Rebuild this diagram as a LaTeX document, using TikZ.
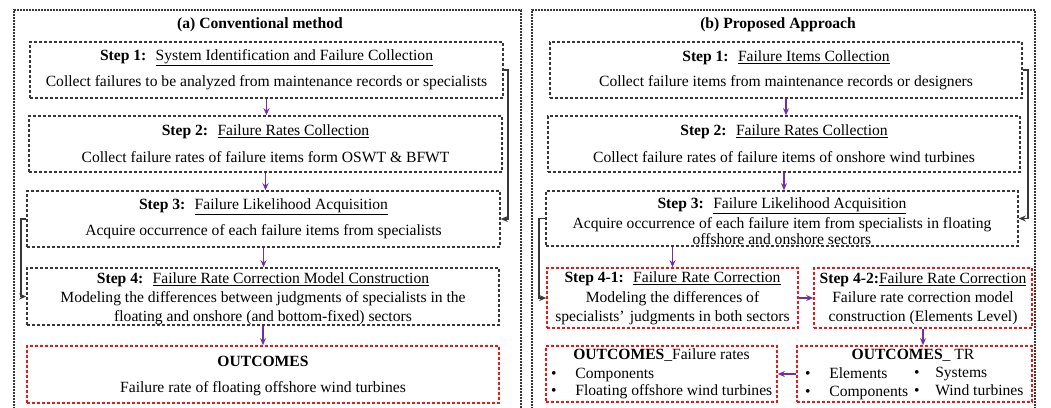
\documentclass[tikz,border=0pt]{standalone}
\usepackage{fontspec}
\setmainfont{Liberation Serif}
\usetikzlibrary{arrows.meta}
\definecolor{arrowpurple}{RGB}{112,48,160}
\definecolor{boxgray}{RGB}{55,55,55}
\definecolor{redbox}{RGB}{240,20,20}
\tikzset{
  outerbox/.style={draw=boxgray, line width=1.5pt, dash pattern=on 1.6pt off 1.4pt},
  graybox/.style={draw=boxgray, line width=1.6pt, dash pattern=on 3pt off 2pt, inner sep=0pt},
  redstepbox/.style={draw=redbox, line width=1.6pt, dash pattern=on 3pt off 2pt, inner sep=0pt},
  txt/.style={inner sep=0pt, font=\fontsize{15.6}{19}\selectfont, align=center},
  ttl/.style={inner sep=0pt, font=\fontsize{15.6}{19}\selectfont\bfseries},
  flow/.style={draw=arrowpurple, line width=1.4pt, -{Stealth[length=7pt,width=6pt]}},
  side/.style={draw=boxgray, line width=1.2pt, -{Stealth[length=7pt,width=6pt]}},
}
\newcommand{\stp}[2]{\textbf{#1}\hspace{0.6em}\underline{#2}}
\begin{document}
\begin{tikzpicture}[x=1pt,y=-1pt]
\useasboundingbox (0,0) rectangle (1051,407);
\fill[white] (0,0) rectangle (1051,407);
\clip (0,0) rectangle (1051,407);
% outer panels
\draw[outerbox] (14,412) -- (14,10) -- (521,10) -- (521,412);
\draw[outerbox] (532,412) -- (532,10) -- (1035,10) -- (1035,412);
\node[ttl] (ta) at (260,25) {(a) Conventional method};
\node[ttl] (tb) at (778,25) {(b) Proposed Approach};
% ---------- left panel ----------
\node[graybox, minimum width=473pt, minimum height=56pt] (ls1) at (266.5,70) {};
\node[txt] (ls1a) at (266.5,58) {\stp{Step 1:}{System Identification and Failure Collection}};
\node[txt] (ls1b) at (266.5,83) {Collect failures to be analyzed from maintenance records or specialists};
\node[graybox, minimum width=473pt, minimum height=56pt] (ls2) at (265.5,144) {};
\node[txt] (ls2a) at (265.5,132) {\stp{Step 2:}{Failure Rates Collection}};
\node[txt] (ls2b) at (265.5,157) {Collect failure rates of failure items form OSWT \& BFWT};
\node[graybox, minimum width=473pt, minimum height=56pt] (ls3) at (263.5,219) {};
\node[txt] (ls3a) at (263.5,207) {\stp{Step 3:}{Failure Likelihood Acquisition}};
\node[txt] (ls3b) at (263.5,232) {Acquire occurrence of each failure items from specialists};
\node[graybox, minimum width=472pt, minimum height=57pt] (ls4) at (263,296.5) {};
\node[txt] (ls4a) at (263,280) {\stp{Step 4:}{Failure Rate Correction Model Construction}};
\node[txt] (ls4b) at (263,308.5) {Modeling the differences between judgments of specialists in the\\floating and onshore (and bottom-fixed) sectors};
\node[redstepbox, minimum width=472pt, minimum height=57pt] (lout) at (263,374.5) {};
\node[txt] (louta) at (263,361) {\textbf{OUTCOMES}};
\node[txt] (loutb) at (263,389) {Failure rate of floating offshore wind turbines};
\draw[flow] (ls1.south) -- (ls1.south |- ls2.north);
\draw[flow] (ls2.south) -- (ls2.south |- ls3.north);
\draw[flow] (ls3.south) -- (ls3.south |- ls4.north);
\draw[flow] (ls4.south) -- (ls4.south |- lout.north);
\draw[side] (ls1.east) -- (508,70) |- (ls3.east);
\draw[side] (ls3.west) -- (21,219) |- (ls4.west);
% ---------- right panel ----------
\node[graybox, minimum width=472pt, minimum height=56pt] (rs1) at (786,70) {};
\node[txt] (rs1a) at (786,58) {\stp{Step 1:}{Failure Items Collection}};
\node[txt] (rs1b) at (786,83) {Collect failure items from maintenance records or designers};
\node[graybox, minimum width=472pt, minimum height=56pt] (rs2) at (784,144) {};
\node[txt] (rs2a) at (784,132) {\stp{Step 2:}{Failure Rates Collection}};
\node[txt] (rs2b) at (784,157) {Collect failure rates of failure items of onshore wind turbines};
\node[graybox, minimum width=472pt, minimum height=55pt] (rs3) at (782,218.5) {};
\node[txt] (rs3a) at (782,205.5) {\stp{Step 3:}{Failure Likelihood Acquisition}};
\node[txt, font=\fontsize{15.6}{16.5}\selectfont] (rs3b) at (782,231) {Acquire occurrence of each failure item from specialists in floating\\offshore and onshore sectors};
\node[redstepbox, minimum width=251pt, minimum height=60pt] (r41) at (672.5,298) {};
\node[txt] (r41a) at (672.5,279) {\stp{Step 4-1:}{Failure Rate Correction}};
\node[txt] (r41b) at (672.5,308) {Modeling the differences of\\specialists’\,\,judgments in both sectors};
\node[redstepbox, minimum width=218pt, minimum height=60pt] (r42) at (923,298) {};
\node[txt] (r42a) at (923,280) {\textbf{Step 4-2:}\underline{Failure Rate Correction}};
\node[txt] (r42b) at (923,308) {Failure rate correction model\\construction (Elements Level)};
\node[redstepbox, minimum width=231pt, minimum height=56pt] (rfr) at (661.5,374) {};
\node[txt] (rfra) at (661.5,355) {\textbf{OUTCOMES}\_Failure rates};
\node[txt, anchor=base west] (rfr1) at (551,378) {\textbullet\hspace{1.2em}Components};
\node[txt, anchor=base west] (rfr2) at (551,395) {\textbullet\hspace{1.2em}Floating offshore wind turbines};
\node[redstepbox, minimum width=235pt, minimum height=56pt] (rtr) at (914.5,374) {};
\node[txt] (rtra) at (913,355) {\textbf{OUTCOMES}\_ TR};
\node[txt, anchor=base west] (rtr1) at (805,378) {\textbullet\hspace{1.2em}Elements};
\node[txt, anchor=base west] (rtr2) at (805,396) {\textbullet\hspace{1.2em}Components};
\node[txt, anchor=base west] (rtr3) at (914,377) {\textbullet\hspace{1.0em}Systems};
\node[txt, anchor=base west] (rtr4) at (914,395) {\textbullet\hspace{1.0em}Wind turbines};
\draw[flow] (rs1.south) -- (rs1.south |- rs2.north);
\draw[flow] (rs2.south) -- (rs2.south |- rs3.north);
\draw[flow] (r41.north |- rs3.south) -- (r41.north);
\draw[flow] (r41.east) -- (r42.west);
\draw[flow] (r42.south) -- (r42.south |- rtr.north);
\draw[flow] (rtr.west) -- (rfr.east);
\draw[side] (rs1.east) -- (1028,70) |- (rs3.east);
\draw[side] (rs3.west) -- (539,218.5) |- (r41.west);
\end{tikzpicture}
\end{document}
